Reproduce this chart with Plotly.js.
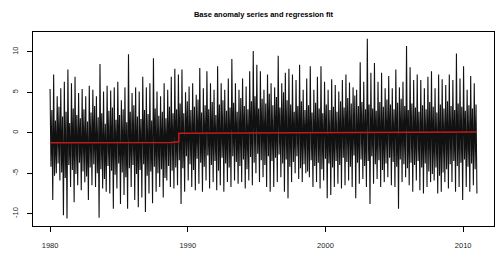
<!DOCTYPE html>
<html><head><meta charset="utf-8">
<script src="https://cdn.plot.ly/plotly-3.0.1.min.js"></script>
<style>html,body{margin:0;padding:0;background:#fff}#c{width:500px;height:260px}</style>
</head><body><div id="c"></div>
<script>
const startYear = 1980, endYear = 2011;
// Each step: upper spike, inner low, inner high, lower spike.
const upperPeaks = [5.4,7.2,4.5,5.5,6.3,7.8,6.1,6.9,4.9,5.4,4.5,5.8,5.3,4.5,8.5,5.1,5.8,5.2,5.6,6.3,4.0,5.6,9.7,4.9,5.6,5.1,6.9,5.6,6.1,9.2,5.1,4.5,6.1,5.3,6.9,7.9,7.2,7.8,5.0,5.7,6.1,4.7,8.0,5.5,7.6,6.1,5.3,8.2,6.1,5.3,6.7,9.1,6.1,5.3,6.7,5.7,7.6,10.1,8.4,7.6,5.3,7.2,6.1,5.6,9.5,6.1,7.4,7.9,7.2,6.5,8.4,5.3,6.7,8.2,5.3,6.9,8.2,6.3,5.3,6.6,5.9,5.1,6.5,7.2,6.2,5.6,5.3,8.7,6.3,11.6,7.4,8.6,6.3,7.4,5.5,7.0,5.5,7.8,5.6,6.3,10.7,8.1,6.5,7.2,6.5,5.5,6.9,7.6,5.5,7.2,6.6,5.9,7.2,6.5,9.8,6.7,8.2,5.3,7.0,6.1];
const innerLow = [-4.2,-5.3,-3.8,-4.9,-5.6,-4.0,-4.6,-5.1,-3.7,-4.8,-5.4,-4.3,-3.9,-5.0,-4.5,-5.7,-4.1,-4.7,-5.2,-3.8,-4.9,-5.5,-4.4,-4.0,-5.1,-4.6,-3.9,-5.3,-4.8,-4.2,-5.0,-4.5,-5.6,-4.1,-4.7,-4.3,
  -3.4,-4.4,-2.9,-3.9,-4.6,-3.2,-3.7,-4.2,-2.8,-4.0,-3.5,-4.7,-3.1,-3.8,-4.3,-2.9,-3.6,-4.1,-3.3,-4.5,
  -3.0,-3.7,-2.6,-3.4,-4.0,-2.9,-3.5,-3.1,-2.7,-3.8,-3.3,-4.2,-3.6,-2.9,-4.4,-3.9,-4.8,-3.4,-4.1,-3.7,
  -4.5,-3.2,-3.8,-4.3,-3.5,-4.0,-3.1,-3.6,-4.2,-2.8,-3.7,-3.3,-4.1,-3.5,-2.9,-3.9,-3.4,-4.6,-3.8,-3.1,
  -3.6,-4.2,-3.3,-3.9,-4.4,-3.7,-4.0,-3.5,-4.3,-3.8,-4.8,-5.1,-4.3,-5.3,-4.9,-4.5,-3.9,-3.5,-4.1,-3.7,
  -3.3,-4.2,-3.8,-4.5];
const innerHigh = [2.8,1.5,3.2,2.0,2.6,1.2,3.0,2.2,1.8,2.9,1.4,2.5,3.3,1.9,2.4,1.1,2.7,3.1,1.6,2.2,2.9,1.3,2.6,3.4,2.0,1.7,2.8,2.3,1.5,3.0,2.1,2.6,1.8,3.2,2.4,2.9,
  3.6,2.4,3.9,2.8,3.2,4.1,2.5,3.4,2.9,3.8,2.2,3.5,4.0,2.7,3.1,3.7,2.6,4.3,3.3,2.9,
  3.9,4.5,3.0,4.2,3.6,4.8,3.4,4.4,3.1,5.0,4.0,3.5,2.6,3.3,3.9,2.8,3.4,2.5,3.7,3.0,
  2.4,3.5,2.8,3.2,2.6,3.9,3.1,4.3,3.6,4.6,3.3,3.8,2.9,3.5,3.0,2.7,3.8,3.2,4.1,3.5,
  2.9,3.7,4.2,3.3,2.8,3.6,3.1,2.6,3.4,2.9,3.8,3.2,2.5,3.5,3.0,3.9,3.3,2.8,3.6,3.2,
  2.7,3.4,3.0,3.5];
const lowerPeaks = [-8.3,-5.0,-5.9,-10.2,-10.6,-6.7,-8.6,-6.5,-7.1,-6.1,-8.3,-6.5,-6.7,-10.5,-6.9,-7.3,-7.5,-9.4,-6.9,-8.8,-7.7,-9.4,-6.7,-8.3,-9.2,-8.0,-9.8,-7.5,-8.7,-7.3,-6.7,-8.0,-5.9,-6.7,-6.9,-6.5,-8.8,-7.3,-5.9,-6.7,-7.1,-6.3,-7.3,-5.9,-6.9,-6.1,-7.1,-6.5,-7.3,-6.1,-6.7,-5.9,-6.3,-6.1,-6.9,-5.9,-6.5,-5.0,-6.1,-5.5,-6.7,-7.3,-6.7,-6.1,-5.5,-7.3,-8.1,-6.1,-5.0,-5.7,-6.1,-5.0,-5.5,-6.7,-6.1,-6.9,-5.9,-8.1,-7.7,-6.7,-6.3,-6.9,-6.5,-5.9,-6.7,-8.1,-6.3,-5.7,-6.7,-8.8,-6.3,-5.7,-6.7,-6.1,-5.5,-6.5,-6.7,-9.4,-6.1,-5.5,-6.5,-7.3,-5.9,-7.1,-7.5,-6.7,-6.1,-5.9,-7.5,-7.3,-6.1,-6.9,-6.1,-7.3,-6.7,-8.3,-6.7,-7.3,-6.5,-7.5];
// regression fit (red)
const fitYears  = [1980, 1988.8, 1989.35, 1989.35, 2011];
const fitValues = [-1.25, -1.22, -1.12, -0.08, 0.1];
const xTicks = [1980, 1990, 2000, 2010];
const yTicks = [-10, -5, 0, 5, 10];

const n = Math.min(upperPeaks.length, innerLow.length, innerHigh.length, lowerPeaks.length);
const total = 4 * n;
const sx = [], sy = [];
for (let i = 0; i < n; i++) {
  [upperPeaks[i], innerLow[i], innerHigh[i], lowerPeaks[i]].forEach((v, j) => {
    sx.push(startYear + (4 * i + j) * (endYear - startYear) / (total - 1));
    sy.push(v);
  });
}

const font = 'Liberation Sans, Arial, sans-serif';
const data = [
  {x: sx, y: sy, type: 'scatter', mode: 'lines', line: {color: '#111', width: 1.1, simplify: false}, hoverinfo: 'skip'},
  {x: fitYears, y: fitValues, type: 'scatter', mode: 'lines', line: {color: '#c41a1a', width: 1.5, simplify: false}, hoverinfo: 'skip'}
];
const axisBase = {
  showgrid: false, zeroline: false, showline: true, mirror: true, linecolor: '#000', linewidth: 1,
  ticks: 'outside', ticklen: 5, tickcolor: '#000', tickwidth: 1,
  tickfont: {family: font, size: 7.5, color: '#222'}
};
const layout = {
  width: 500, height: 260,
  margin: {l: 33, r: 6, t: 32, b: 34},
  paper_bgcolor: '#fff', plot_bgcolor: '#fff',
  showlegend: false,
  title: {text: '<b>Base anomaly series and regression fit</b>', font: {family: font, size: 7.5, color: '#000'},
          xref: 'paper', x: 0.5, xanchor: 'center', yref: 'container', y: 0.946, yanchor: 'middle'},
  xaxis: Object.assign({}, axisBase, {range: [1978.76, 2012.24], tickmode: 'array', tickvals: xTicks, ticktext: xTicks.map(String), ticklabelstandoff: 7}),
  yaxis: Object.assign({}, axisBase, {range: [-11.52, 12.44], tickmode: 'array', tickvals: yTicks, ticktext: yTicks.map(String), tickangle: -90, ticklabelstandoff: 6})
};
Plotly.newPlot('c', data, layout, {staticPlot: true, displayModeBar: false});
</script>
</body></html>
